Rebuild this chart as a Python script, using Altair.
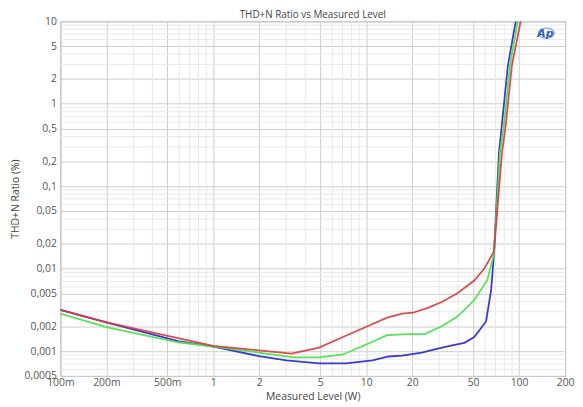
import altair as alt
import pandas as pd

# Measured level (W) and THD+N ratio (%) per trace
blue_x = [0.1, 0.2, 0.588, 1.0, 1.99, 3.01, 4.92, 7.36, 11.0, 14.0, 17.2, 23.1, 29.4, 37.8, 43.9, 50.9, 60.8, 65.6, 68.5, 73.8, 77.2, 84.4, 95.1]
blue_y = [0.00317, 0.00223, 0.00132, 0.00113, 0.00087, 0.00077, 0.00071, 0.00071, 0.00077, 0.00086, 0.00088, 0.00096, 0.00107, 0.00119, 0.00126, 0.00148, 0.00229, 0.00547, 0.0150, 0.25, 0.56, 2.86, 10.0]

green_x = [0.1, 0.2, 0.588, 1.0, 1.99, 3.35, 4.92, 7.04, 10.2, 13.7, 18.8, 24.2, 31.2, 39.5, 50.9, 61.8, 68.5, 74.9, 79.6, 87.1, 97.9]
green_y = [0.00284, 0.00195, 0.00128, 0.00113, 0.00096, 0.00084, 0.00084, 0.00091, 0.00122, 0.00156, 0.00161, 0.00161, 0.00200, 0.00262, 0.00416, 0.00718, 0.0150, 0.25, 0.56, 2.86, 10.0]

red_x = [0.1, 0.2, 0.588, 1.0, 1.99, 3.25, 4.92, 7.04, 10.2, 13.7, 17.2, 20.2, 25.3, 31.2, 39.5, 50.9, 59.1, 68.5, 77.2, 81.9, 89.6, 102.4]
red_y = [0.00317, 0.00223, 0.00144, 0.00116, 0.00102, 0.00093, 0.00110, 0.00148, 0.00200, 0.00255, 0.00284, 0.00292, 0.00335, 0.00394, 0.00504, 0.00718, 0.00995, 0.0162, 0.25, 0.56, 2.86, 10.0]

x_ticks = [0.1, 0.2, 0.5, 1, 2, 5, 10, 20, 50, 100, 200]
y_ticks = [0.0005, 0.001, 0.002, 0.005, 0.01, 0.02, 0.05, 0.1, 0.2, 0.5, 1, 2, 5, 10]
x_minor = [m * d for d in [0.1, 1, 10, 100] for m in [3, 4, 6, 7, 8, 9] if m * d < 200]
y_minor = [m * d for d in [0.0001, 0.001, 0.01, 0.1, 1] for m in [3, 4, 6, 7, 8, 9] if 0.0005 < m * d < 10]

chart_title = "THD+N Ratio vs Measured Level"
series_names = ["Blue", "Green", "Red"]
series_colors = ["#3a3ad0", "#4fe04f", "#d83a3a"]

rows = []
for name, xs, ys in [("Blue", blue_x, blue_y), ("Green", green_x, green_y), ("Red", red_x, red_y)]:
    for i, (a, b) in enumerate(zip(xs, ys)):
        rows.append({"series": name, "level": a, "ratio": b, "order": i})
df = pd.DataFrame(rows)

FONT = "Open Sans"
W, H = 511, 359
xscale = alt.Scale(type="log", domain=[0.1, 200], nice=False)
yscale = alt.Scale(type="log", domain=[0.0005, 10], nice=False)

x_label_expr = "datum.value < 1 ? format(datum.value * 1000, 'd') + 'm' : format(datum.value, 'd')"
y_label_expr = "replace(format(datum.value, '~g'), '.', ',')"

xgrid = alt.Chart(pd.DataFrame({"v": x_minor})).mark_rule(color="#e8e8e8", strokeWidth=1).encode(
    x=alt.X("v:Q", scale=xscale)
)
ygrid = alt.Chart(pd.DataFrame({"v": y_minor})).mark_rule(color="#e8e8e8", strokeWidth=1).encode(
    y=alt.Y("v:Q", scale=yscale)
)

lines = alt.Chart(df).mark_line(strokeWidth=1.8, clip=True).encode(
    x=alt.X("level:Q", scale=xscale, title="Measured Level (W)",
            axis=alt.Axis(values=x_ticks, labelExpr=x_label_expr, grid=True, gridColor="#cccccc",
                          ticks=False, domain=False, labelPadding=2, labelFontSize=10.5,
                          labelColor="#555555", labelFont=FONT, titleFont=FONT, titleFontSize=10.5,
                          titleFontWeight="normal", titleColor="#444444", titlePadding=3,
                          labelFlush=False)),
    y=alt.Y("ratio:Q", scale=yscale, title="THD+N Ratio (%)",
            axis=alt.Axis(values=y_ticks, labelExpr=y_label_expr, grid=True, gridColor="#cccccc",
                          ticks=False, domain=False, labelPadding=4, labelFontSize=10.5,
                          labelColor="#555555", labelFont=FONT, titleFont=FONT, titleFontSize=10.5,
                          titleFontWeight="normal", titleColor="#444444",
                          titleX=-45, titleY=H / 2, titleAngle=270, titleBaseline="middle",
                          titleAlign="center", labelFlush=False)),
    color=alt.Color("series:N", scale=alt.Scale(domain=series_names, range=series_colors), legend=None),
    opacity=alt.Opacity("series:N", scale=alt.Scale(domain=series_names, range=[1.0, 0.9, 0.8]), legend=None),
    order=alt.Order("order:Q"),
    detail="series:N",
)

title_mark = alt.Chart(pd.DataFrame({"t": [chart_title]})).mark_text(
    font=FONT, fontSize=10, color="#444444", baseline="alphabetic", align="center"
).encode(text="t:N", x=alt.value(W / 2), y=alt.value(-3))

logo_ring = alt.Chart(pd.DataFrame({"a": [0]})).mark_point(
    shape="M-1,0 A1,0.62 0 1,0 1,0 A1,0.62 0 1,0 -1,0 Z", size=260, color="#4a7fc8",
    strokeWidth=1.2, filled=False
).encode(x=alt.value(492), y=alt.value(12))
logo_text = alt.Chart(pd.DataFrame({"a": [0]})).mark_text(
    text="Ap", font="DejaVu Sans", fontSize=11, fontStyle="italic", fontWeight="bold",
    color="#2f5fb0"
).encode(x=alt.value(491), y=alt.value(12.5))

chart = alt.layer(xgrid, ygrid, lines, title_mark, logo_ring, logo_text).properties(
    width=W, height=H,
    autosize=alt.AutoSizeParams(type="none"),
    padding={"left": 53, "top": 11, "right": 10, "bottom": 28},
).configure_view(stroke="#a8a8a8", strokeWidth=1)

chart.save("out.html", embed_options={"renderer": "svg", "actions": False})
